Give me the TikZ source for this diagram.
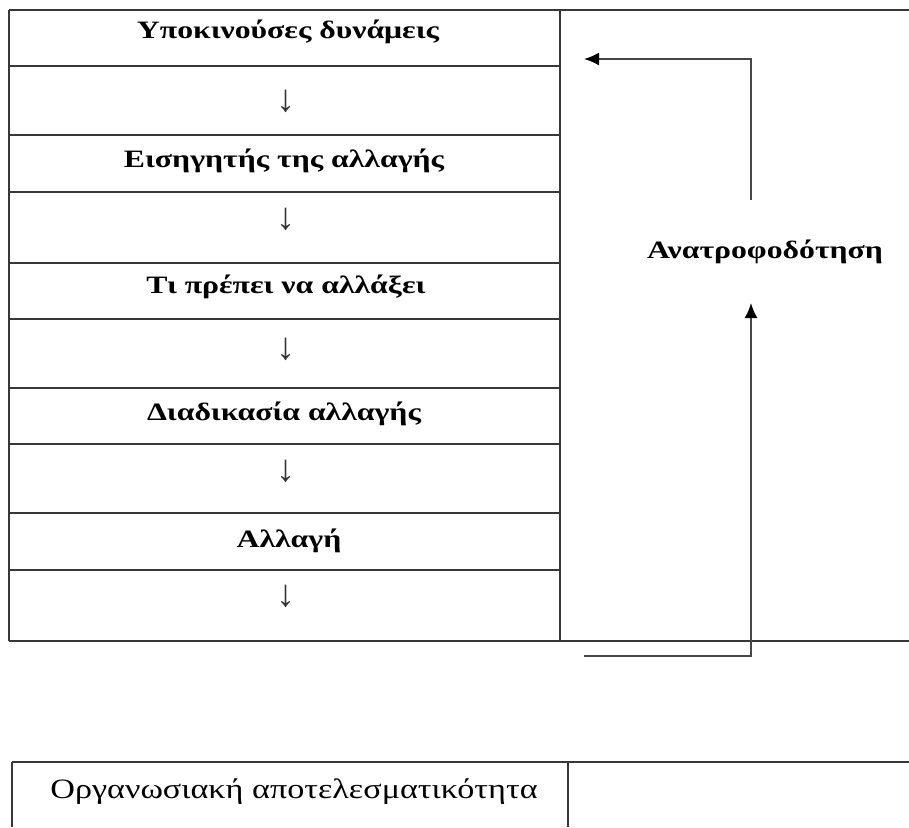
\documentclass[tikz,border=0pt]{standalone}
\usepackage{fontspec}
\setmainfont{Liberation Serif}
\usetikzlibrary{arrows.meta}
\newcommand{\wide}[1]{\scalebox{1.27}[1]{#1}}
\begin{document}
\begin{tikzpicture}[x=1pt,y=-1pt,
  grid/.style={line width=1.6pt,draw=black!78},
  lbl/.style={font=\bfseries\fontsize{25}{29}\selectfont,anchor=center,inner sep=0pt},
  darr/.style={font=\fontsize{38}{42}\selectfont,anchor=center,inner sep=0pt,text=black!80},
  fb/.style={line width=1.8pt,draw=black!72},
  tip/.style={-{Latex[length=15pt,width=13pt,color=black]}}]
\useasboundingbox (0,0) rectangle (909,827);
% upper table
\draw[grid] (9,10) -- (909,10);
\draw[grid] (9,641) -- (909,641);
\draw[grid] (9,10) -- (9,641);
\draw[grid] (560,10) -- (560,641);
\foreach \yy in {66,135,192,263,319,388,444,513,570}
  \draw[grid] (9,\yy) -- (560,\yy);
% cell texts
\node[lbl] (t1) at (288,32) {\wide{Υποκινούσες δυνάμεις}};
\node[darr] (a1) at (286,101) {↓};
\node[lbl] (t2) at (284,161) {\wide{Εισηγητής της αλλαγής}};
\node[darr] (a2) at (286,219) {↓};
\node[lbl] (t3) at (286,287) {\wide{Τι πρέπει να αλλάξει}};
\node[darr] (a3) at (286,349) {↓};
\node[lbl] (t4) at (284,414) {\wide{Διαδικασία αλλαγής}};
\node[darr] (a4) at (286,471) {↓};
\node[lbl] (t5) at (289,541) {\wide{Αλλαγή}};
\node[darr] (a5) at (286,596) {↓};
% feedback
\node[lbl] (fbl) at (765,252) {\wide{Ανατροφοδότηση}};
\coordinate (c1) at (751,200);
\coordinate (c2) at (751,59);
\coordinate (c3) at (584,59);
\coordinate (c4) at (584,656);
\coordinate (c5) at (751,656);
\coordinate (c6) at (751,303);
\draw[fb,tip] (c1) -- (c2) -- (c3);
\draw[fb,tip] (c4) -- (c5) -- (c6);
% lower table
\draw[grid] (12,762) -- (909,762);
\draw[grid] (12,762) -- (12,827);
\draw[grid] (568,762) -- (568,827);
\node[font=\fontsize{28}{32}\selectfont,inner sep=0pt] (oa) at (294,792) {\scalebox{1.22}[1]{Οργανωσιακή αποτελεσματικότητα}};
\end{tikzpicture}
\end{document}
